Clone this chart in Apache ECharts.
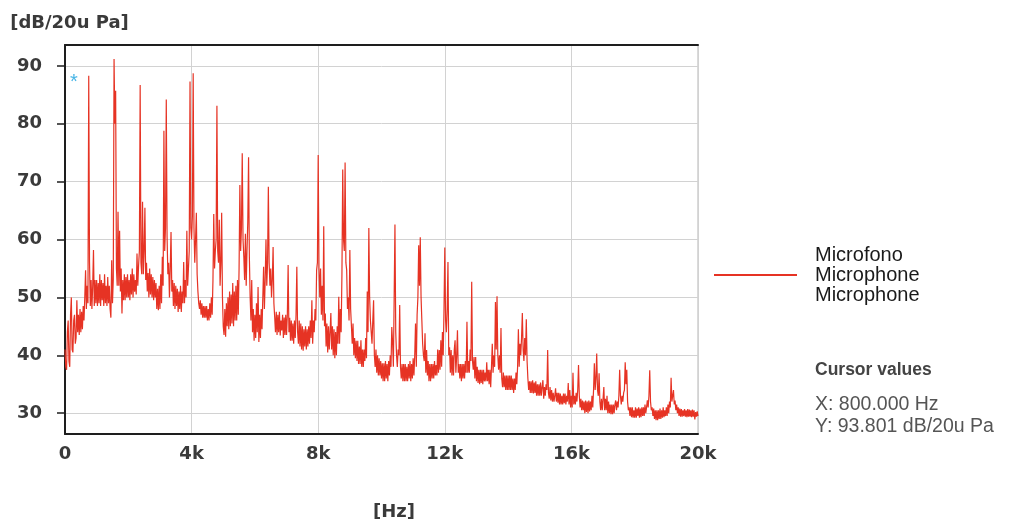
<!DOCTYPE html>
<html>
<head>
<meta charset="utf-8">
<title>Spettro microfono</title>
<script src="https://cdn.jsdelivr.net/npm/echarts@6/dist/echarts.min.js"></script>
<style>
  html, body { margin: 0; padding: 0; background: #fff; }
  #chart { width: 1009px; height: 524px; }
</style>
</head>
<body>
<div id="chart"></div>
<script>
// FFT bins, 25 Hz apart, 0 .. 20 kHz (dB/20u Pa)
var BIN_HZ = 25;
var levelsDb = [
  // 0k
  41, 38, 37.5, 44, 46, 39, 38, 47, 50, 41, 40.5, 46, 47, 42, 43, 49.5, 44, 47, 43.5, 48,
  44, 47.5, 44.5, 48.5, 46, 50, 54.7, 48, 52, 49, 88.3, 56, 48.5, 53, 48, 52, 58.2, 48.5, 53, 49,
  // 1k
  53, 48.5, 52.5, 49, 54, 48.5, 53, 49.5, 52.5, 48.5, 54, 49, 52, 48.5, 53.5, 49, 52, 48, 46.5, 56.4,
  49, 53, 91.2, 80, 85.7, 55, 52, 64.8, 52, 61.5, 51, 55, 47.2, 53, 49.5, 54, 49.5, 53.5, 50, 54,
  // 2k
  50, 53, 49.5, 54, 50.5, 55, 50, 54, 51, 53, 50.5, 57.6, 52, 55.5, 58, 86.7, 56, 54, 66.5, 54,
  58, 65.5, 53, 56, 51, 54.2, 50, 55, 50.5, 54, 50, 53.5, 49.5, 53, 50, 52.5, 48, 51.5, 47.8, 52,
  // 3k
  48, 54, 49, 57, 52, 78.8, 58, 62, 84.2, 60.5, 54, 56, 50, 55, 61.3, 51, 53, 48.5, 52.5, 48,
  52, 48.5, 51.5, 47.5, 51, 48, 52, 47.5, 51, 49, 56.1, 49, 53, 50, 61.5, 52, 55, 58, 87.3, 62,
  // 4k
  60, 64, 88.7, 62, 56, 60, 64.6, 54, 51, 49, 48, 49.5, 47, 49, 46.5, 48.5, 46.5, 48.5, 46.5, 48.5,
  46, 48, 46, 49, 46.5, 50, 47, 53, 64.4, 55, 58, 60, 83.1, 58, 56, 63.4, 52, 56, 64.6, 50,
  // 5k
  45, 43.5, 48, 43.2, 49, 45, 50, 44.5, 51, 45, 50.5, 45.5, 52.5, 45, 51, 46, 52, 46, 53, 47,
  55, 69.4, 58, 62, 74.9, 60, 57, 53, 61, 52, 58, 63, 74.2, 57, 50, 46, 53, 44, 48, 42.5,
  // 6k
  47, 43, 49, 44, 51.8, 42.3, 47, 43, 48, 44.5, 50, 55.3, 48, 53, 60, 52, 56, 69.1, 56, 52,
  55, 50, 53, 58.7, 49, 46.6, 44, 47.5, 43.5, 47, 44, 47.5, 43.4, 46, 44.3, 47, 43, 46.5, 43.5, 47,
  // 7k
  43.5, 47, 55.6, 44, 46.5, 42.5, 46, 42.5, 45.5, 42, 46, 43, 47, 55.3, 44, 42, 46, 41.5, 45.5, 41,
  45, 40.8, 44.5, 41.5, 45, 41, 44.5, 41.5, 45, 42, 46, 43, 49.5, 42, 46, 44, 48, 46, 54.7, 56,
  // 8k
  74.6, 55, 50, 55, 47, 52, 46, 62.3, 45, 47.2, 41.5, 45.5, 40.5, 45, 41, 44, 47.3, 41, 45, 40,
  44.5, 39.5, 44, 40, 45, 42, 50.1, 42, 48, 44, 54, 72.1, 60, 58, 73.3, 56, 54.7, 48, 50, 46,
  // 9k
  58.2, 48, 45, 42, 45.5, 40, 43, 39.5, 42.5, 39, 42.5, 38.5, 41.5, 38.5, 42.6, 38, 41, 38, 41, 39,
  43, 39.5, 51, 44, 62, 50, 46, 44, 42, 46, 49.5, 40, 38, 41, 37, 40, 36.5, 39.5, 36.5, 39,
  // 10k
  36, 38.6, 35.5, 38.6, 35.5, 39, 36, 38.5, 35.5, 39, 36.5, 40, 38, 44.9, 42.3, 38, 50, 62.6, 44, 40,
  38, 41, 40, 48.7, 38, 36, 38.5, 35.5, 38.5, 35.5, 38.5, 35.5, 38, 35.5, 38.5, 36, 39, 35.5, 38.5, 36,
  // 11k
  39.5, 36.5, 40, 45.5, 38, 47, 50, 59, 52, 60.4, 50, 46, 42, 40, 39, 43.8, 37, 40.9, 36.5, 39,
  35.5, 38.5, 35.5, 38.5, 36, 38.5, 36, 39, 36.5, 38.3, 36.5, 41, 37, 40.9, 37.5, 42.6, 38, 44, 40, 48,
  // 12k
  58.6, 46, 44, 48, 56.1, 40, 41.4, 37, 40.9, 36.5, 40, 36.5, 41, 42.6, 37, 40, 44.3, 37, 38.5, 36,
  38.5, 35.5, 38.5, 36, 38.5, 36, 39, 37, 45.8, 37, 39, 37, 41, 39, 52.7, 39, 37.5, 39.7, 36, 39.7,
  // 13k
  35.5, 38, 35.2, 37.5, 35, 37.5, 35.2, 37.5, 35, 37.5, 35.5, 37, 35.5, 38.8, 35.5, 37.5, 35, 37.5, 34.5, 38,
  42, 37, 40, 38, 49.2, 41, 50.2, 40, 37.5, 40, 37, 44.7, 36, 34.5, 37, 34.5, 36.5, 34, 36.5, 34,
  // 14k
  36.5, 34, 36.5, 34, 36.5, 34, 36, 33.5, 36, 34, 37, 35, 38, 44.5, 38, 42, 40, 43, 47.3, 41,
  39, 43, 40, 46.2, 39, 36, 34, 35.5, 33.5, 35.5, 33.5, 35.7, 33.4, 35.3, 33.5, 35.5, 33, 35, 33, 35,
  // 15k
  33, 35.3, 33, 34.5, 35.7, 32.5, 34.5, 33, 35, 34, 40.9, 33.5, 32.5, 34.5, 32.2, 34, 32, 33.5, 32, 33,
  34.3, 32, 33.5, 31.8, 33.5, 31.5, 33.4, 31.5, 33, 31.5, 33.4, 31.7, 33.4, 31.5, 33, 32, 35.2, 31.5, 34, 31,
  // 16k
  33, 31, 37, 31.5, 33, 31.5, 33.5, 32, 34, 38.3, 33, 31, 32.5, 30.5, 32.2, 30.5, 32, 30, 32.2, 30.2,
  32, 30, 32.2, 30.3, 32, 30.5, 33, 31, 34, 38.6, 34, 36, 40.3, 34, 33, 36.9, 32, 30.5, 32.5, 30.5,
  // 17k
  32.5, 34.5, 30.5, 32.5, 30.5, 33, 30, 32, 30, 31.5, 29.8, 31.5, 29.8, 31.5, 30, 31.5, 32.2, 30.5, 32, 31,
  33, 37.5, 33, 31.5, 33, 32, 33.5, 34, 38.8, 35, 37.5, 32, 30.5, 31, 29.5, 31, 29.3, 31, 29.2, 30.5,
  // 18k
  29.2, 31, 29.2, 30.8, 29.5, 31, 29.2, 30.8, 29.3, 31, 29.5, 31, 29.5, 31.5, 30, 31, 32.2, 31, 33, 37.4,
  32, 30.5, 31, 29.5, 30.8, 29, 30.5, 28.8, 30.5, 28.8, 30.5, 29, 30.8, 29, 30.5, 29.2, 31, 29.3, 30.5, 29.5,
  // 19k
  31, 29.5, 31.5, 30, 32, 31, 36.1, 32, 33, 34, 31.5, 32.2, 30.5, 31.5, 30, 31, 29.5, 30.8, 29.4, 30.7,
  29.4, 30.5, 29.5, 30.7, 29.4, 30.5, 29.3, 30.7, 29.4, 30.6, 29.4, 30.5, 29.3, 30.6, 29.4, 30.5, 28.9, 30.2, 29.4, 30.3,
  // 20k
  29.5
];
var yTicks = [30, 40, 50, 60, 70, 80, 90];
var xTicks = [0, 4000, 8000, 12000, 16000, 20000];
var xTickLabels = ['0', '4k', '8k', '12k', '16k', '20k'];
var cursorMark = [[280, 87.8]];
var cursorLines = ['X: 800.000 Hz', 'Y: 93.801 dB/20u Pa'];
var seriesName = 'Microfono\nMicrophone\nMicrophone';

var spectrum = levelsDb.map(function (db, i) {
  return [i * BIN_HZ, db];
});

var RED = '#e63324';
var INK = '#3a3a3a';
var tickFont = { color: INK, fontFamily: 'DejaVu Sans', fontWeight: 'bold', fontSize: 18 };

var chart = echarts.init(document.getElementById('chart'), null, { renderer: 'canvas' });

var option = {
  animation: false,
  backgroundColor: '#fff',
  grid: {
    left: 65, top: 45, width: 633, height: 389,
    show: true, borderColor: '#b5b5b5', borderWidth: 1,
    containLabel: false, outerBoundsMode: 'none'
  },
  legend: {
    data: [{ name: seriesName, icon: 'rect' }],
    left: 714, top: 245, padding: 0,
    itemWidth: 83, itemHeight: 2,
    selectedMode: false,
    itemStyle: { color: RED },
    textStyle: {
      fontFamily: 'Liberation Sans', fontSize: 20, lineHeight: 20,
      color: '#1a1a1a', padding: [0, 0, 0, 13]
    }
  },
  xAxis: [{
    type: 'value', min: 0, max: 20000, interval: 4000, position: 'bottom',
    axisLine: { show: true, onZero: false, lineStyle: { color: '#1e1e1e', width: 2 } },
    axisTick: { show: false },
    axisLabel: Object.assign({
      margin: 11,
      formatter: function (v) {
        var i = xTicks.indexOf(v);
        return i < 0 ? '' : xTickLabels[i];
      }
    }, tickFont),
    splitLine: { show: true, lineStyle: { color: '#d2d2d2', width: 1 } },
    name: '[Hz]', nameLocation: 'middle', nameGap: 68,
    nameTextStyle: Object.assign({ padding: [0, 0, 0, 25], lineHeight: 20 }, tickFont)
  }, {
    // top frame line
    type: 'value', min: 0, max: 20000, position: 'top',
    axisLine: { show: true, onZero: false, lineStyle: { color: '#1e1e1e', width: 2 } },
    axisTick: { show: false }, axisLabel: { show: false }, splitLine: { show: false }
  }],
  yAxis: {
    type: 'value', min: 26.4, max: 93.6,
    axisLine: { show: true, onZero: false, lineStyle: { color: '#1e1e1e', width: 2 } },
    axisTick: { show: true, length: 8, customValues: yTicks, lineStyle: { color: '#1e1e1e', width: 1.5 } },
    axisLabel: Object.assign({ margin: 23, customValues: yTicks }, tickFont),
    splitLine: { show: true, lineStyle: { color: '#d2d2d2', width: 1 } },
    name: '[dB/20u Pa]', nameLocation: 'end', nameGap: 12,
    nameTextStyle: Object.assign({ padding: [0, 0, 0, 9], lineHeight: 20 }, tickFont)
  },
  series: [{
    name: seriesName,
    type: 'line',
    data: spectrum,
    showSymbol: false,
    symbol: 'none',
    silent: true,
    lineStyle: { color: RED, width: 1.2 },
    itemStyle: { color: RED },
    z: 3
  }, {
    name: 'cursor',
    type: 'scatter',
    data: cursorMark,
    symbolSize: 1,
    silent: true,
    itemStyle: { color: 'rgba(0,0,0,0)' },
    label: {
      show: true, position: 'inside', formatter: '*', offset: [0, 4],
      color: '#1aa3e0', fontFamily: 'Liberation Sans', fontSize: 20
    },
    z: 5
  }],
  graphic: [{
    type: 'text', left: 815, top: 361,
    style: { text: 'Cursor values', font: 'bold 17.5px "Liberation Sans"', fill: '#444' }
  }, {
    type: 'text', left: 815, top: 394,
    style: { text: cursorLines.join('\n'), font: '19.5px "Liberation Sans"', lineHeight: 22, fill: '#555' }
  }]
};

chart.setOption(option);
window.addEventListener('resize', function () { chart.resize(); });
</script>
</body>
</html>
